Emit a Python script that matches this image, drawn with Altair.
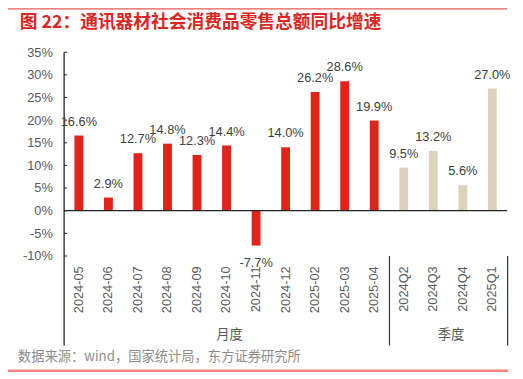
import altair as alt
import pandas as pd

categories = ["2024-05", "2024-06", "2024-07", "2024-08", "2024-09", "2024-10",
              "2024-11", "2024-12", "2025-02", "2025-03", "2025-04",
              "2024Q2", "2024Q3", "2024Q4", "2025Q1"]
values = [16.6, 2.9, 12.7, 14.8, 12.3, 14.4, -7.7, 14.0, 26.2, 28.6, 19.9,
          9.5, 13.2, 5.6, 27.0]
groups = ["月度"] * 11 + ["季度"] * 4
y_ticks = [-10, -5, 0, 5, 10, 15, 20, 25, 30, 35]

title_text = "图 22：通讯器材社会消费品零售总额同比增速"
source_text = "数据来源：wind，国家统计局，东方证券研究所"

W, H = 450, 207
LATIN = "Liberation Sans"
CJK = "Noto Sans CJK SC"

df = pd.DataFrame({"cat": categories, "v": values, "grp": groups})
one = pd.DataFrame({"a": [0]})

xenc = alt.X("cat:N", sort=categories,
             scale=alt.Scale(paddingInner=0.7, paddingOuter=0.35),
             axis=alt.Axis(title=None, labelAngle=-90, domain=False, ticks=False,
                           labelPadding=10, labelFontSize=13, labelColor="#595959",
                           labelFont=LATIN, labelOverlap=False))
yscale = alt.Scale(domain=[-10, 35], nice=False, zero=False)
yenc = alt.Y("v:Q", scale=yscale,
             axis=alt.Axis(title=None, values=y_ticks, domain=False, ticks=False,
                           grid=False, labelPadding=12, labelFontSize=13,
                           labelColor="#595959", labelFont=LATIN,
                           labelOverlap=False, labelExpr="datum.value + '%'"))

bars = alt.Chart(df).mark_bar().encode(
    x=xenc,
    y=yenc,
    color=alt.Color("grp:N", scale=alt.Scale(domain=["月度", "季度"],
                                             range=["#E2231A", "#DDD3BC"]),
                    legend=None),
)

label_expr = "replace(format(datum.v, '.1f'), '\u2212', '-') + '%'"
lab_pos = alt.Chart(df).transform_filter("datum.v >= 0").transform_calculate(
    t=label_expr
).mark_text(dy=-10, baseline="alphabetic", fontSize=13, font=LATIN,
            color="#404040").encode(x=xenc, y=yenc, text="t:N")
lab_neg = alt.Chart(df).transform_filter("datum.v < 0").transform_calculate(
    t=label_expr
).mark_text(dy=22, baseline="alphabetic", fontSize=13, font=LATIN,
            color="#404040").encode(x=xenc, y=yenc, text="t:N")

zero = alt.Chart(pd.DataFrame({"v": [0]})).mark_rule(
    color="#222222", strokeWidth=1.2).encode(y=yenc)

ticks = alt.Chart(pd.DataFrame({"v": y_ticks})).mark_rule(
    color="#222222", strokeWidth=1).encode(
    x=alt.value(0), x2=alt.value(3), y=yenc)

yaxis_line = alt.Chart(one).mark_rule(color="#111111", strokeWidth=1.2).encode(
    x=alt.value(0), y=alt.value(0), y2=alt.value(298))
div1 = alt.Chart(one).mark_rule(color="#333333", strokeWidth=1.2).encode(
    x=alt.value(330.5), y=alt.value(207), y2=alt.value(298))
div2 = alt.Chart(one).mark_rule(color="#333333", strokeWidth=1.2).encode(
    x=alt.value(450.5), y=alt.value(207), y2=alt.value(298))

grp_df = pd.DataFrame({"g": ["月度", "季度"], "px": [168, 393]})
grp_labels = alt.Chart(grp_df).mark_text(
    fontSize=13.5, font=CJK, color="#595959", baseline="middle").encode(
    x=alt.X("px:Q", scale=None), y=alt.value(287), text="g:N")

title = alt.Chart(one).mark_text(
    text=title_text, align="left", baseline="middle", fontSize=18,
    fontWeight="bold", font=CJK, color="#E0251F").encode(
    x=alt.value(-45), y=alt.value(-30))
top_line = alt.Chart(one).mark_rule(color="#EA5A55", strokeWidth=1.2).encode(
    x=alt.value(-57), x2=alt.value(450), y=alt.value(-44))
source = alt.Chart(one).mark_text(
    text=source_text, align="left", baseline="middle", fontSize=13.5,
    font=CJK, color="#8C8C8C").encode(x=alt.value(-47), y=alt.value(310))
bottom_line = alt.Chart(one).mark_rule(color="#F2837D", strokeWidth=2.5).encode(
    x=alt.value(-57), x2=alt.value(451), y=alt.value(323.5))

chart = alt.layer(
    bars, zero, ticks, yaxis_line, div1, div2, lab_pos, lab_neg, grp_labels,
    title, top_line, source, bottom_line
).properties(
    width=W, height=H,
    padding={"left": 57, "top": 42, "right": 8, "bottom": 118},
    autosize=alt.AutoSizeParams(type="none"),
).configure_view(stroke=None)

chart.save("out.html", embed_options={"renderer": "svg", "actions": False})
